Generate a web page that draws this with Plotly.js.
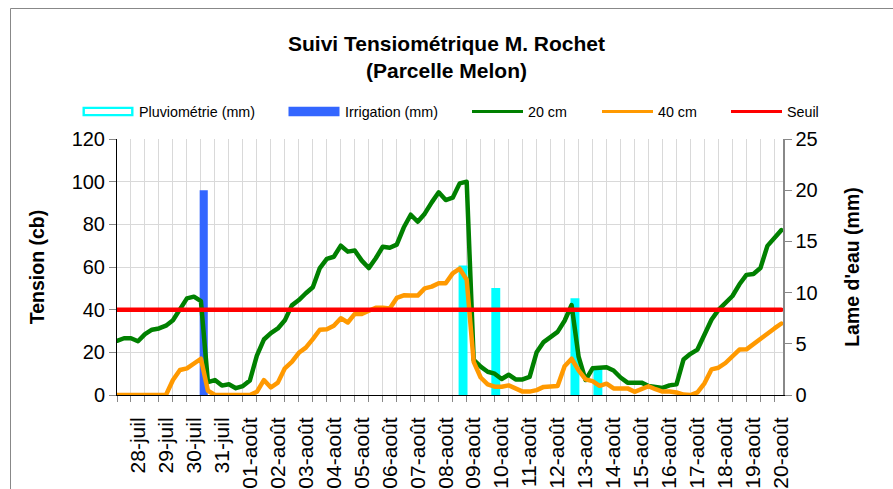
<!DOCTYPE html>
<html><head><meta charset="utf-8">
<script src="https://cdn.plot.ly/plotly-3.0.1.min.js"></script>
<style>
html,body{margin:0;padding:0;background:#fff;}
#chart{width:893px;height:489px;}
path.js-line{stroke-linejoin:round;stroke-linecap:round;}
</style></head><body><div id="chart"></div>
<script>
// x in days relative to 28-juil 00:00
const dayLabels = ['28-juil','29-juil','30-juil','31-juil','01-août','02-août','03-août','04-août','05-août','06-août','07-août','08-août','09-août','10-août','11-août','12-août','13-août','14-août','15-août','16-août','17-août','18-août','19-août','20-août'];
const labelDays = [0,1,2,3,4,5,6,7,8,9,10,11,12,13,14,15,16,17,18,19,20,21,22,23];
const startDay = -0.75;   // first reading: 27-juil 18h
const stepDay = 0.25;     // one reading every 6 h

const tension20 = [25.4,26.6,26.6,25.2,28.5,30.6,31.2,32.5,35.0,40.2,45.3,46.1,44.0,6.0,7.0,4.4,5.0,3.2,4.2,6.8,
  18.5,26.0,29.0,31.2,35.0,42.0,44.5,47.7,50.5,59.5,63.8,64.8,70.0,67.2,67.7,63.0,59.5,64.1,69.5,69.0,
  70.5,78.5,84.5,81.2,85.0,90.3,95.0,91.4,92.5,99.2,100,16.5,13.3,10.9,10.0,7.5,9.5,7.3,7.3,8.5,
  20.0,24.8,27.3,29.6,34.8,42.2,18.0,7.0,12.5,13.0,13.0,11.5,8.2,5.8,5.8,5.8,4.2,3.5,3.3,4.5,
  5.0,16.6,19.3,21.3,28.0,35.3,39.9,42.8,46.4,51.9,56.3,56.7,59.5,69.9,73.8,77.3];
const tension40 = [0,0,0,0,0,0,0,0,7.0,11.7,12.5,14.5,17.0,2.0,0,0,0,0,0,0,
  1.5,7.0,3.5,5.8,12.5,15.5,19.8,22.2,26.2,30.6,30.8,32.5,36.0,34.0,38.0,38.0,39.5,40.9,40.9,40.5,
  45.5,46.7,46.6,46.6,50.0,50.8,52.4,52.4,57.0,59.2,54.0,15.5,8.2,5.0,3.9,3.9,4.5,3.0,1.6,1.6,
  2.3,3.8,4.2,4.2,13.5,17.0,11.5,7.3,6.5,4.3,5.3,3.1,3.1,3.1,1.5,2.8,4.1,2.7,1.6,1.6,
  1.2,0.2,0,1.2,5.5,12.0,12.8,15.0,18.4,21.3,21.4,24.0,26.6,28.6,31.2,33.5];
const seuilValue = 40;

const pluieDays = [11.62, 12.79, 15.62, 16.44];
const pluieMm = [12.4, 10.2, 9.2, 2.3];
const irrigDays = [2.35];
const irrigMm = [20];

const times = tension20.map((_, i) => startDay + i * stepDay);

const FONT = 'Liberation Sans, Arial, sans-serif';
const C_PLUIE = '#00FFFF', C_IRRIG = '#3366FF', C_20 = '#008000', C_40 = '#FF9900', C_SEUIL = '#FF0000';

const traces = [
  {type:'bar', name:'Pluviométrie (mm)', x:pluieDays, y:pluieMm, xaxis:'x', yaxis:'y', width:0.14,
   marker:{color:'#ffffff', line:{color:C_PLUIE, width:5}}},
  {type:'bar', name:'Irrigation (mm)', x:irrigDays, y:irrigMm, xaxis:'x', yaxis:'y', width:0.29,
   marker:{color:C_IRRIG, line:{width:0}}},
  {type:'scatter', mode:'lines', name:'20 cm', x:times, y:tension20, xaxis:'x', yaxis:'y2',
   line:{color:C_20, width:4.5}},
  {type:'scatter', mode:'lines', name:'40 cm', x:times, y:tension40, xaxis:'x', yaxis:'y2',
   line:{color:C_40, width:4.5}},
  {type:'scatter', mode:'lines', name:'Seuil', x:[times[0], times[times.length-1]], y:[seuilValue, seuilValue],
   xaxis:'x', yaxis:'y2', line:{color:C_SEUIL, width:4.5}}
];
traces.forEach(t => t.showlegend = false);

const L = 117, R = 110, T = 139, B = 94, W = 893, H = 489;
const pw = W - L - R, ph = H - T - B;
const px2x = p => (p - L) / pw;
const py2y = p => (H - B - p) / ph;

// Excel-style legend row (symbol left edge, in page pixels)
const legendSymbolX = [82.5, 288.5, 472, 602, 731];
const legendKinds = ['outlinebar', 'bar', 'line', 'line', 'line'];
const symW = 51, legY = 111.5;
const shapes = [];
const annotations = [];
traces.forEach((t, k) => {
  const x0 = legendSymbolX[k], x1 = x0 + symW;
  if (legendKinds[k] === 'line') {
    shapes.push({type:'line', xref:'paper', yref:'paper', x0:px2x(x0), x1:px2x(x1), y0:py2y(legY), y1:py2y(legY),
      line:{color:t.line.color, width:3.2}});
  } else if (legendKinds[k] === 'outlinebar') {
    shapes.push({type:'rect', xref:'paper', yref:'paper', x0:px2x(x0+1.2), x1:px2x(x1-1.2), y0:py2y(legY+3.6), y1:py2y(legY-3.6),
      fillcolor:'#ffffff', line:{color:t.marker.line.color, width:2.4}});
  } else {
    shapes.push({type:'rect', xref:'paper', yref:'paper', x0:px2x(x0), x1:px2x(x1), y0:py2y(legY+4.8), y1:py2y(legY-4.8),
      fillcolor:t.marker.color, line:{width:0}});
  }
  annotations.push({xref:'paper', yref:'paper', x:px2x(x1 + 3), y:py2y(legY), xanchor:'left', yanchor:'middle',
    text:t.name, showarrow:false, font:{family:FONT, size:14.3, color:'#000'}});
});
shapes.push({type:'path', xref:'paper', yref:'paper', layer:'above',
  path:`M ${px2x(10.5)} ${py2y(495)} L ${px2x(10.5)} ${py2y(8.5)} L ${px2x(900)} ${py2y(8.5)}`,
  line:{color:'#888888', width:1}});

const layout = {
  width: W, height: H,
  margin: {l:L, r:R, t:T, b:B, pad:0},
  paper_bgcolor:'#ffffff', plot_bgcolor:'#ffffff',
  font: {family: FONT, color:'#000000', size:14},
  title: {text:'Suivi Tensiométrique M. Rochet<br>(Parcelle Melon)',
    font:{family:FONT, size:21, weight:'bold', color:'#000'},
    x:0.5, xref:'container', xanchor:'center', y:1-50.5/H, yref:'container', yanchor:'top'},
  barmode:'overlay',
  showlegend:false,
  xaxis:{range:[startDay, 23.057], tickmode:'array', tickvals:labelDays, ticktext:dayLabels,
    tickangle:-90, ticks:'', showgrid:false, zeroline:false, showline:true, linecolor:'#000', linewidth:1,
    tickfont:{family:FONT, size:21, color:'#000'}, ticklabelstandoff:13, fixedrange:true,
    minor:{tick0:startDay, dtick:0.5, ticks:'outside', ticklen:6, tickcolor:'#888888',
      showgrid:true, gridcolor:'#d9d9d9', gridwidth:1}},
  yaxis:{side:'right', range:[0,25], tickmode:'linear', tick0:0, dtick:5, showgrid:false, zeroline:false,
    showline:true, linecolor:'#888888', linewidth:1.5, ticks:'outside', ticklen:7, tickcolor:'#888888',
    tickfont:{family:FONT, size:20, color:'#000'},
    title:{text:"Lame d'eau (mm)", font:{family:FONT, size:19.5, weight:'bold', color:'#000'}, standoff:28}},
  yaxis2:{overlaying:'y', side:'left', range:[0,120], tickmode:'linear', tick0:0, dtick:20,
    showgrid:true, gridcolor:'#d9d9d9', gridwidth:1, zeroline:false,
    showline:true, linecolor:'#000', linewidth:1, ticks:'outside', ticklen:7, tickcolor:'#888888',
    tickfont:{family:FONT, size:20, color:'#000'},
    title:{text:'Tension (cb)', font:{family:FONT, size:19.5, weight:'bold', color:'#000'}, standoff:21}},
  shapes: shapes,
  annotations: annotations
};

Plotly.newPlot('chart', traces, layout, {staticPlot:true, displayModeBar:false});
</script></body></html>
